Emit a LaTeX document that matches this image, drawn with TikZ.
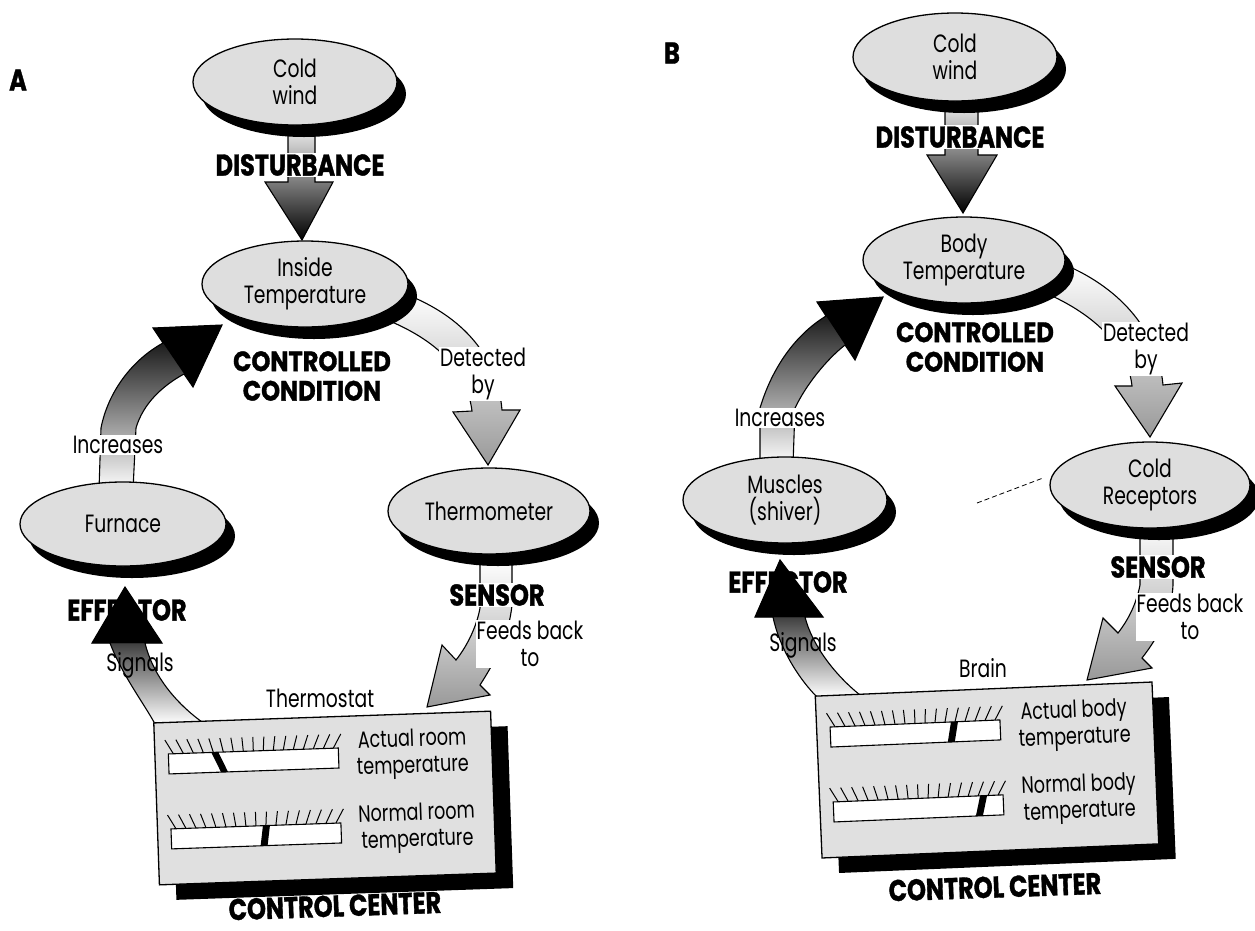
\documentclass[tikz,border=0pt]{standalone}
\usepackage{fontspec}
\setmainfont{Poppins}[FakeStretch=0.75]
\newfontfamily\hvy{Poppins}[FakeStretch=0.8, BoldFeatures={FakeBold=1.2}]
\newfontfamily\hvyw{Poppins}[FakeStretch=0.86, BoldFeatures={FakeBold=1.2}]
\usetikzlibrary{shapes.geometric,shadows,calc}
\newcommand\gaugebar[3]{%
  \draw[line width=1.1pt, fill=white] (-155,#1) rectangle (15,#1+20);
  \foreach \t in {0,...,16}{%
    \pgfmathsetmacro\xx{-150+10*\t}%
    \draw[line width=1pt] (\xx,#1) -- ({\xx+(\xx+70)*0.1},#1-14);}
  \fill (#2,#1) -- (#2+7,#1) -- (#2+7+#3,#1+20) -- (#2+#3,#1+20) -- cycle;}
\begin{document}
\begin{tikzpicture}[x=1pt,y=-1pt,
  ell/.style={ellipse, draw, line width=1.3pt, fill=black!13, inner sep=0pt, align=center,
    font=\fontsize{25}{27}\selectfont,
    drop shadow={shadow xshift=9pt,shadow yshift=-12pt,opacity=1,fill=black}},
  ctrl/.style={rectangle, draw, line width=1.3pt, fill=black!12, inner sep=0pt,
    minimum width=337pt, minimum height=162pt,
    drop shadow={shadow xshift=17pt,shadow yshift=-15pt,opacity=1,fill=black}},
  lab/.style={font=\fontsize{25}{27}\selectfont, align=center, inner sep=1pt},
  wlab/.style={lab, fill=white},
  boxlab/.style={font=\fontsize{23.5}{26.5}\selectfont, align=center, inner sep=0pt},
  big/.style={font=\hvy\bfseries\fontsize{30}{27}\selectfont, align=center, inner sep=1pt},
  cond/.style={font=\hvyw\bfseries\fontsize{28}{29.5}\selectfont, align=center, inner sep=1pt},
  wbig/.style={big, fill=white},
  edge/.style={line width=1.1pt, line join=miter},
  light/.style={edge, top color=white, bottom color=black!40},
  darksh/.style={top color=black, middle color=black!85, bottom color=white},
  dist/.style={edge, top color=white, middle color=black!80, bottom color=black}
]
\useasboundingbox (0,0) rectangle (1255,930);

% ================= arrows (behind the ellipses) =================
% --- Panel A ---
\draw[dist] (288,120) -- (288,182) -- (265,182) -- (302,240) -- (333,182) -- (315,182) -- (315,120) -- cycle;
\draw[light] (400,292) .. controls (458,313) and (497,352) .. (502,410) -- (520,410) -- (488,465) -- (453,412) -- (472,411) .. controls (467,372) and (440,343) .. (392,322) -- cycle;
\draw[light] (480,560) -- (480,608) .. controls (477,625) and (468,645) .. (456,660) -- (442,645) -- (427,707) -- (490,695) -- (480,685) .. controls (496,660) and (509,635) .. (512,605) -- (512,560) -- cycle;
\path[darksh] (99,490) -- (101,428) .. controls (108,392) and (132,360) .. (163,343) -- (153,328) -- (222,325) -- (193,387) -- (184,374) .. controls (162,386) and (143,404) .. (136,428) -- (133,490) -- cycle;
\fill (153,328) -- (222,325) -- (193,387) -- cycle;
\draw[edge] (99,490) -- (101,428) .. controls (108,392) and (132,360) .. (163,343) -- (153,328) -- (222,325) -- (193,387) -- (184,374) .. controls (162,386) and (143,404) .. (136,428) -- (133,490);
\path[top color=black!75, bottom color=white] (155,724) .. controls (145,705) and (122,675) .. (110,643) -- (145,643) .. controls (152,672) and (172,700) .. (202,722) -- cycle;
\fill (92,643) -- (125,587) -- (162,643) -- cycle;
\draw[edge] (155,724) .. controls (145,705) and (122,675) .. (110,643) -- (92,643) -- (125,587) -- (162,643) -- (145,643) .. controls (152,672) and (172,700) .. (202,722);

% --- Panel B ---
\draw[dist] (945,95) -- (945,155) -- (927,155) -- (963,213) -- (997,155) -- (978,155) -- (978,95) -- cycle;
\draw[light] (1058,262) .. controls (1118,285) and (1158,330) .. (1163,385) -- (1182,383) -- (1150,437) -- (1115,386) -- (1132,386) .. controls (1128,350) and (1100,318) .. (1050,295) -- cycle;
\draw[light] (1140,520) -- (1140,585) .. controls (1136,605) and (1128,620) .. (1118,633) -- (1103,618) -- (1087,680) -- (1152,668) -- (1142,658) .. controls (1160,635) and (1172,610) .. (1173,585) -- (1173,520) -- cycle;
\path[darksh] (760,465) -- (760,408) .. controls (772,368) and (795,335) .. (826,316) -- (817,302) -- (883,297) -- (855,360) -- (845,345) .. controls (826,360) and (806,385) .. (795,408) -- (793,465) -- cycle;
\fill (817,302) -- (883,297) -- (855,360) -- cycle;
\draw[edge] (760,465) -- (760,408) .. controls (772,368) and (795,335) .. (826,316) -- (817,302) -- (883,297) -- (855,360) -- (845,345) .. controls (826,360) and (806,385) .. (795,408) -- (793,465);
\path[top color=black!75, bottom color=white] (817,697) .. controls (800,680) and (780,650) .. (773,617) -- (805,617) .. controls (812,645) and (835,675) .. (860,695) -- cycle;
\fill (755,617) -- (780,560) -- (823,617) -- cycle;
\draw[edge] (817,697) .. controls (800,680) and (780,650) .. (773,617) -- (755,617) -- (780,560) -- (823,617) -- (805,617) .. controls (812,645) and (835,675) .. (860,695);

\coordinate (d1) at (977,503);
\coordinate (d2) at (1043,478);
\draw[line width=0.8pt, dash pattern=on 5pt off 3pt] (d1) -- (d2);

% ================= ellipses =================
\node[ell, minimum width=204pt, minimum height=86pt] (coldA) at (295,82) {Cold\\wind};
\node[ell, minimum width=206pt, minimum height=86pt] (insideA) at (305,284) {Inside\\Temperature};
\node[ell, minimum width=206pt, minimum height=84pt] (furnA) at (123,524) {Furnace};
\node[ell, minimum width=202pt, minimum height=86pt] (thermA) at (489,511) {Thermometer};

\node[ell, minimum width=204pt, minimum height=88pt] (coldB) at (955,57) {Cold\\wind};
\node[ell, minimum width=202pt, minimum height=86pt] (bodyB) at (964,260) {Body\\Temperature};
\node[ell, minimum width=204pt, minimum height=86pt] (muscB) at (785,500) {Muscles\\(shiver)};
\node[ell, minimum width=200pt, minimum height=86pt] (recB) at (1150,485) {Cold\\Receptors};

% ================= control centres =================
\node[ctrl, rotate=2] (boxA) at (325,798) {};
\begin{scope}[shift={(325,798)}, rotate=2, transform shape]
  \gaugebar{-49.5}{-112}{9}
  \gaugebar{25.5}{-63}{-3}
  \node[boxlab] (arA) at (89,-41) {Actual room\\temperature};
  \node[boxlab] (nrA) at (91,33) {Normal room\\temperature};
\end{scope}
\node[ctrl, rotate=2.4] (boxB) at (987,770) {};
\begin{scope}[shift={(987,770)}, rotate=2.4, transform shape]
  \gaugebar{-49.5}{-34}{-4}
  \gaugebar{25.5}{-8}{-5}
  \node[boxlab] (abB) at (89,-41) {Actual body\\temperature};
  \node[boxlab] (nbB) at (91,33) {Normal body\\temperature};
\end{scope}

% ================= labels =================
\node[big] (tA) at (18,80) {A};
\node[big] (tB) at (672,53) {B};

\node[wbig] (disA) at (300,165) {DISTURBANCE};
\node[cond] (ccA) at (312,376) {CONTROLLED\\CONDITION};
\node[big] (effA) at (127,610) {EFFECTOR};
\fill (92,643) -- (125,587) -- (162,643) -- cycle;
\node[wbig] (senA) at (497,595) {SENSOR};
\node[big, rotate=2, inner sep=0pt] (cenA) at (335,906) {CONTROL CENTER};
\node[wlab] (incA) at (118,445) {Increases};
\node[lab] (sigA) at (140,665) {Signals};
\node[wlab] (detA) at (483,374) {Detected\\by};
\node[wlab] (fbA) at (530,644) {Feeds back\\to};
\node[lab] (thsA) at (320,698) {Thermostat};

\node[wbig] (disB) at (960,137) {DISTURBANCE};
\node[cond] (ccB) at (975,347) {CONTROLLED\\CONDITION};
\node[big] (effB) at (788,582) {EFFECTOR};
\fill (755,617) -- (780,560) -- (823,617) -- cycle;
\node[wbig] (senB) at (1158,567) {SENSOR};
\node[big, rotate=2, inner sep=0pt] (cenB) at (995,887) {CONTROL CENTER};
\node[wlab] (incB) at (780,418) {Increases};
\node[lab] (sigB) at (803,645) {Signals};
\node[wlab] (detB) at (1146,349) {Detected\\by};
\node[wlab] (fbB) at (1190,617) {Feeds back\\to};
\node[lab] (brB) at (983,668) {Brain};
\end{tikzpicture}
\end{document}
